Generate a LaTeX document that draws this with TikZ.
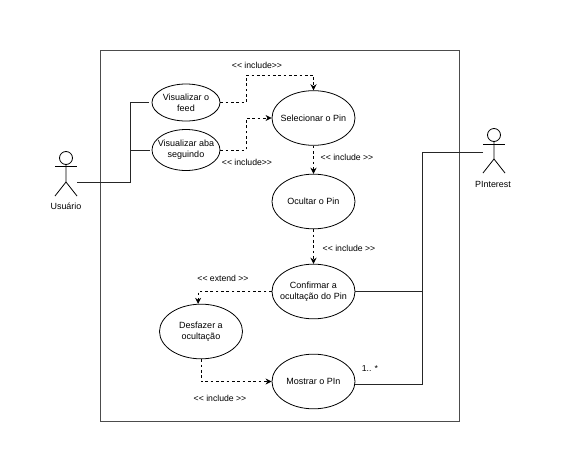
\documentclass[tikz,border=0pt]{standalone}
\usepackage{fontspec}
\setmainfont{Liberation Sans}
\usetikzlibrary{arrows.meta, positioning, shapes.geometric}

\begin{document}
\begin{tikzpicture}[
                x=0.75pt, y=-0.75pt,
                line width=0.6pt,
                usecase/.style={draw, ellipse, inner xsep=-10pt, inner ysep=-3pt, align=center, minimum width=62.25pt, minimum height=41pt, font=\fontsize{6.75}{8}\selectfont},
                smallcase/.style={usecase, minimum width=51pt},
                label/.style={inner sep=0pt, font=\fontsize{6.5}{9}\selectfont},
                assoc/.style={-, black!85},
                dep/.style={-{Stealth[length=4.5pt, width=4.5pt]}, dashed, dash pattern=on 2pt off 2pt}]
            \useasboundingbox (0,0) rectangle (562,472);

            % Sistema
            \draw[black!70] (100,50) rectangle (459,421);

            % Casos de uso
            \node[smallcase, minimum height=27.75pt] (feed) at (186,102.5) {Visualizar o\\feed};
            \node[smallcase, minimum height=30.75pt] (aba) at (186,150) {Visualizar aba\\seguindo};
            \node[usecase] (selecionar) at (313.5,118) {Selecionar o Pin};
            \node[usecase] (ocultar) at (313.5,201.5) {Ocultar o Pin};
            \node[usecase] (confirmar) at (313.5,291.5) {Confirmar a\\ocultação do Pin};
            \node[usecase] (desfazer) at (201,331.5) {Desfazer a\\ocultação};
            \node[usecase] (mostrar) at (313.5,381.5) {Mostrar o PIn};

            % Atores
            \node[draw, circle, inner sep=0pt, minimum size=9.75pt] (headU) at (66,158) {};
            \coordinate (bodyU) at (66,182);
            \coordinate (handU) at (77,182);
            \draw (headU) -- (bodyU) -- (55,196);
            \draw (bodyU) -- (77,196);
            \draw (55,166) -- (77,166);
            \node[label, font=\fontsize{6.7}{9}\selectfont] (usuario) at (66,206) {Usuário};

            \node[draw, circle, inner sep=0pt, minimum size=9.75pt] (headP) at (494,135) {};
            \coordinate (bodyP) at (494,159);
            \coordinate (handP) at (483,152);
            \draw (headP) -- (bodyP) -- (483,173);
            \draw (bodyP) -- (505,173);
            \draw (483,144) -- (505,144);
            \node[label, font=\fontsize{6.7}{9}\selectfont] (pinterest) at (493,184) {PInterest};

            % Associações
            \coordinate (busU) at (130,182);
            \coordinate (busP) at (422,152);
            \draw[assoc] (handU) -- (busU) |- ([xshift=-2.25pt]feed.west);
            \draw[assoc] (busU |- aba) -- ([xshift=-1.5pt]aba.west);
            \draw[assoc] (handP) -- (busP) |- ([yshift=-2.25pt]mostrar.east);
            \draw[assoc] (confirmar.east) -- (busP |- confirmar.east);

            % Dependências
            \draw[dep] (feed.east) -- ++(26,0) -- ++(0,-27.5) -| (selecionar.north);
            \draw[dep] (aba.east) -- ++(26,0) |- (selecionar.west);
            \draw[dep] (selecionar) -- (ocultar);
            \draw[dep] (ocultar) -- (confirmar);
            \draw[dep] (confirmar.west) -| (desfazer.96);
            \draw[dep] (desfazer.south) |- (mostrar.west);

            % Rótulos
            \node[label] (incFeed) at (257,65) {<{}< include>{}>};
            \node[label] (incAba) at (247,162) {<{}< include>{}>};
            \node[label] (incSel) at (347,157) {<{}< include >{}>};
            \node[label] (incOcu) at (349,248) {<{}< include >{}>};
            \node[label] (ext) at (223,278) {<{}< extend >{}>};
            \node[label] (incDes) at (220,398) {<{}< include >{}>};
            \node[label] (mult) at (370,369) {1.. *};

        \end{tikzpicture}
\end{document}
